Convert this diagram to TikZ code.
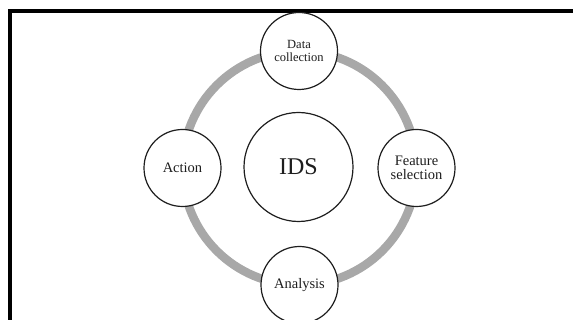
\documentclass[tikz,border=0pt]{standalone}
\usepackage{fontspec}
\setmainfont{Liberation Serif}
\usetikzlibrary{backgrounds}
\definecolor{ringgray}{HTML}{A8A8A8}
\definecolor{inkdark}{HTML}{1E1E1E}
\begin{document}
\begin{tikzpicture}[x=1pt,y=-1pt,
  stage/.style={circle, draw=inkdark, line width=1.2pt, fill=white,
    minimum size=77pt, inner sep=0pt, align=center, text=inkdark,
    font=\fontsize{14.5}{14.5}\selectfont},
  hub/.style={stage, minimum size=109pt, font=\fontsize{24}{24}\selectfont},
  ring/.style={draw=ringgray, line width=8.5pt}]
\useasboundingbox (0,0) rectangle (573,320);
\clip (0,0) rectangle (573,320);
% outer frame (only left and top edges fall inside the page)
\draw[line width=4pt] (10,340) |- (600,11);
% hub and the four stages of the cycle
\node[hub] (ids) at (298.5,167) {IDS};
\node[stage, font=\fontsize{12.5}{12.5}\selectfont] (dc) at (299,51) {Data\\collection};
\node[stage] (fs) at (416.5,168) {Feature\\selection};
\node[stage] (an) at (299.5,285) {Analysis};
\node[stage] (ac) at (182.5,168) {Action};
% grey ring linking the stages
\begin{scope}[on background layer]
  \draw[ring] (dc.center) to[bend left=45] (fs.center)
              to[bend left=45] (an.center)
              to[bend left=45] (ac.center)
              to[bend left=45] (dc.center);
\end{scope}
\end{tikzpicture}
\end{document}
